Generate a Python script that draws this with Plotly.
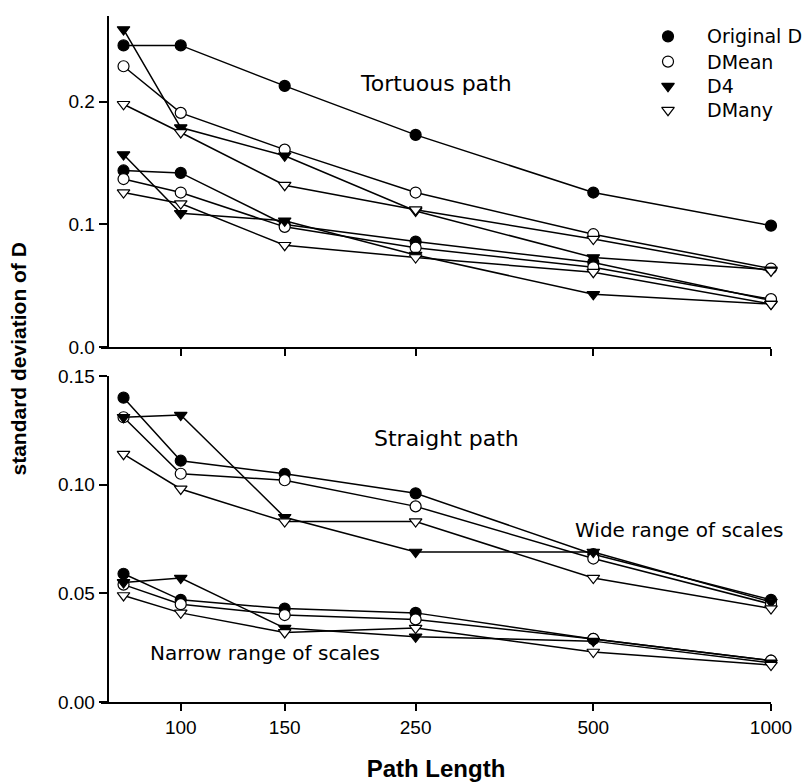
import numpy as np
import plotly.graph_objects as go

# ---------------- data ----------------
path_length = [80, 100, 150, 250, 500, 1000]
x_tick_vals = [100, 150, 250, 500, 1000]
x_tick_text = ["100", "150", "250", "500", "1000"]

# Tortuous path - wide range of scales (upper group)
tort_wide_orig = [0.246, 0.246, 0.213, 0.173, 0.126, 0.099]
tort_wide_mean = [0.229, 0.191, 0.161, 0.126, 0.092, 0.064]
tort_wide_d4 = [0.259, 0.179, 0.156, 0.111, 0.073, 0.063]
tort_wide_many = [0.198, 0.175, 0.132, 0.112, 0.088, 0.062]
# Tortuous path - narrow range of scales (lower group)
tort_narrow_orig = [0.144, 0.142, 0.100, 0.086, 0.069, 0.038]
tort_narrow_mean = [0.137, 0.126, 0.098, 0.081, 0.065, 0.039]
tort_narrow_d4 = [0.157, 0.109, 0.103, 0.075, 0.043, 0.035]
tort_narrow_many = [0.126, 0.117, 0.083, 0.073, 0.061, 0.035]

# Straight path - wide range of scales
str_wide_orig = [0.140, 0.111, 0.105, 0.096, 0.068, 0.047]
str_wide_mean = [0.131, 0.105, 0.102, 0.090, 0.066, 0.045]
str_wide_d4 = [0.131, 0.132, 0.085, 0.069, 0.069, 0.046]
str_wide_many = [0.114, 0.098, 0.083, 0.083, 0.057, 0.043]
# Straight path - narrow range of scales
str_narrow_orig = [0.059, 0.047, 0.043, 0.041, 0.029, 0.019]
str_narrow_mean = [0.054, 0.045, 0.040, 0.038, 0.029, 0.019]
str_narrow_d4 = [0.055, 0.057, 0.034, 0.030, 0.028, 0.018]
str_narrow_many = [0.049, 0.041, 0.032, 0.034, 0.023, 0.017]

series_names = ["Original D", "DMean", "D4", "DMany"]
symbols = ["circle", "circle-open", "triangle-down", "triangle-down-open"]

top_groups = [
    [tort_wide_orig, tort_wide_mean, tort_wide_d4, tort_wide_many],
    [tort_narrow_orig, tort_narrow_mean, tort_narrow_d4, tort_narrow_many],
]
bottom_groups = [
    [str_wide_orig, str_wide_mean, str_wide_d4, str_wide_many],
    [str_narrow_orig, str_narrow_mean, str_narrow_d4, str_narrow_many],
]

W, H = 803, 784
L, R, T, B = 101, 32, 6, 81          # x-axis lines start a little left of the y-axes
plot_w = W - L - R
plot_h = H - T - B
yaxis_px = 107.5                      # where the y-axis lines sit
x100_px = 180.7                       # pixel of the 100 tick
px_per_decade = 590.0


def px_to_paper(px, py):
    return (px - L) / plot_w, (H - B - py) / plot_h


def marker_style(sym):
    filled = not sym.endswith("open")
    return dict(
        symbol=sym.replace("-open", ""),
        size=11,
        color="black" if filled else "white",
        line=dict(color="black", width=1.2),
    )


fig = go.Figure()

for groups, xa, ya in [(top_groups, "x", "y"), (bottom_groups, "x2", "y2")]:
    for grp in groups:
        for name, vals, sym in zip(series_names, grp, symbols):
            fig.add_trace(go.Scatter(
                x=path_length, y=vals, xaxis=xa, yaxis=ya, name=name,
                mode="lines+markers",
                line=dict(color="black", width=1.5),
                marker=marker_style(sym),
                showlegend=False, hoverinfo="skip", cliponaxis=False,
            ))

# ---- key (legend) drawn in a hidden pixel-space overlay axis ----
legend_x_px = 668
legend_text_px = 705
legend_rows_px = [26.7, 52.3, 77.3, 101.7]
for name, sym, ry in zip(series_names, symbols, legend_rows_px):
    fig.add_trace(go.Scatter(
        x=[legend_x_px], y=[ry], xaxis="x3", yaxis="y3", mode="markers",
        marker=marker_style(sym), showlegend=False, hoverinfo="skip",
        cliponaxis=False,
    ))
    xp, yp = px_to_paper(legend_text_px, ry)
    fig.add_annotation(
        x=xp, y=yp, xref="paper", yref="paper", text=name, showarrow=False,
        xanchor="left", yanchor="middle",
        font=dict(family="DejaVu Sans, sans-serif", size=19, color="black"),
    )

tick_font = dict(family="Liberation Sans, Arial, sans-serif", size=19, color="black")
x_left = 2 - (x100_px - L) / px_per_decade
xrange = [x_left, 3]
axis_common = dict(
    showline=True, linecolor="black", linewidth=1.5, mirror=False,
    ticks="outside", tickcolor="black", tickwidth=1.5,
    showgrid=False, zeroline=False,
)

top_bottom_px = 342.3
bot_top_px = 371.7
top_dom = [(H - B - top_bottom_px) / plot_h, 1]
bot_dom = [0, (H - B - bot_top_px) / plot_h]
ypos = (yaxis_px - L) / plot_w

fig.update_layout(
    width=W, height=H,
    margin=dict(l=L, r=R, t=T, b=B, pad=0),
    paper_bgcolor="white", plot_bgcolor="rgba(0,0,0,0)",
    font=dict(family="Liberation Sans, Arial, sans-serif", color="black"),
    showlegend=False,
    xaxis=dict(type="log", range=xrange, domain=[0, 1], anchor="y",
               tickvals=x_tick_vals, showticklabels=False, ticklen=7, **axis_common),
    yaxis=dict(domain=top_dom, range=[0, 0.27], anchor="free", position=ypos,
               tickvals=[0.0, 0.1, 0.2], ticktext=["0.0", "0.1", "0.2"],
               ticklen=8, tickfont=tick_font, **axis_common),
    xaxis2=dict(type="log", range=xrange, domain=[0, 1], anchor="y2",
                tickvals=x_tick_vals, ticktext=x_tick_text, ticklen=7,
                tickfont=tick_font,
                title=dict(text="<b>Path Length</b>", standoff=24,
                           font=dict(family="Liberation Sans, Arial, sans-serif", size=24)),
                **axis_common),
    yaxis2=dict(domain=bot_dom, range=[0, 0.15], anchor="free", position=ypos,
                tickvals=[0.0, 0.05, 0.10, 0.15],
                ticktext=["0.00", "0.05", "0.10", "0.15"],
                ticklen=8, tickfont=tick_font, **axis_common),
    xaxis3=dict(domain=[0, 1], range=[L, W - R], anchor="y3", visible=False,
                fixedrange=True),
    yaxis3=dict(domain=[0, 1], range=[H - B, T], anchor="x3", visible=False,
                fixedrange=True),
)

annots = [
    ("Tortuous path", 435.5, 75, 22),
    ("Straight path", 446, 435, 22),
    ("Wide range of scales", 679, 528, 20),
    ("Narrow range of scales", 265, 653, 20),
]
for text, px, py, fs in annots:
    xp, yp = px_to_paper(px, py)
    fig.add_annotation(
        x=xp, y=yp, xref="paper", yref="paper", text=text, showarrow=False,
        xanchor="center", yanchor="middle",
        font=dict(family="DejaVu Sans, sans-serif", size=fs, color="black"),
    )

# y-axis title shared by both panels
xp, yp = px_to_paper(18, 355)
fig.add_annotation(
    x=xp, y=yp, xref="paper", yref="paper", text="<b>standard deviation of D</b>",
    showarrow=False, textangle=-90, xanchor="center", yanchor="middle",
    font=dict(family="Liberation Sans, Arial, sans-serif", size=21, color="black"),
)

fig.write_html("out.html")
